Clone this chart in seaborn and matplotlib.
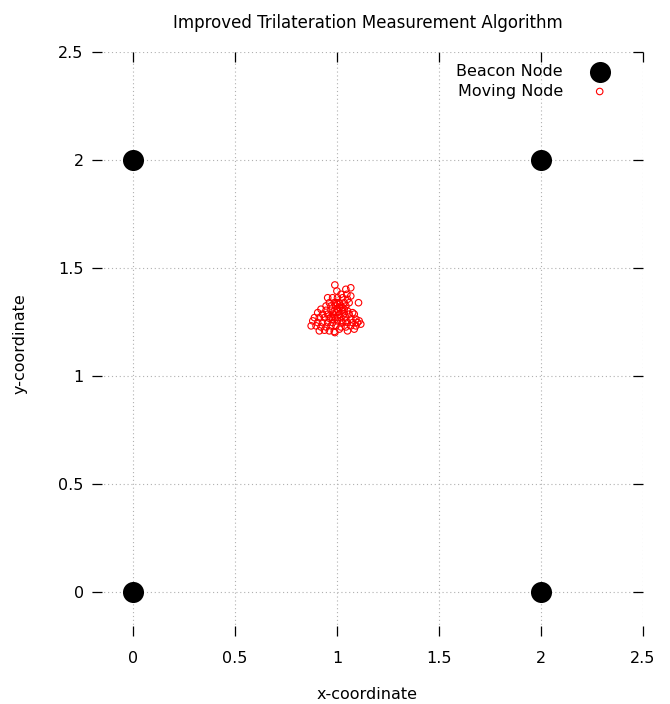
import matplotlib
matplotlib.use('Agg')
import matplotlib.pyplot as plt
import seaborn as sns

# Beacon (anchor) nodes
beacon_x = [0, 2, 0, 2]
beacon_y = [0, 0, 2, 2]

# Estimated positions of the moving node
moving_x = [1.068, 1.044, 1.020, 1.049, 1.068, 1.106, 0.955, 0.979, 1.003, 1.028,
            1.052, 0.963, 0.987, 1.012, 1.036, 1.060, 0.947, 0.971, 0.995, 1.020,
            1.044, 0.922, 0.947, 0.971, 1.003, 1.028, 1.052, 1.077, 0.906, 0.930,
            0.955, 0.979, 1.012, 1.036, 1.060, 1.085, 0.890, 0.914, 0.939, 0.963,
            0.987, 1.020, 1.044, 1.068, 1.093, 1.109, 0.882, 0.906, 0.930, 0.955,
            0.979, 1.003, 1.028, 1.052, 1.077, 1.101, 0.874, 0.898, 0.922, 0.947,
            0.971, 0.995, 1.020, 1.044, 1.068, 1.093, 1.117, 0.914, 0.939, 0.963,
            0.987, 1.012, 1.052, 1.085, 0.990, 1.028, 1.000, 1.000, 1.007, 0.990,
            0.995, 1.012, 0.987, 1.036, 1.003, 1.020, 0.979, 1.044, 1.003, 0.971]
moving_y = [1.408, 1.401, 1.378, 1.378, 1.370, 1.339, 1.362, 1.362, 1.362, 1.362,
            1.355, 1.339, 1.339, 1.339, 1.339, 1.339, 1.324, 1.324, 1.324, 1.324,
            1.324, 1.309, 1.304, 1.304, 1.309, 1.304, 1.301, 1.293, 1.293, 1.286,
            1.286, 1.286, 1.286, 1.289, 1.286, 1.286, 1.270, 1.270, 1.270, 1.267,
            1.270, 1.270, 1.270, 1.263, 1.263, 1.255, 1.255, 1.247, 1.247, 1.247,
            1.247, 1.255, 1.247, 1.247, 1.247, 1.247, 1.232, 1.232, 1.227, 1.227,
            1.232, 1.232, 1.227, 1.227, 1.232, 1.232, 1.240, 1.209, 1.212, 1.209,
            1.206, 1.217, 1.209, 1.217, 1.201, 1.316, 1.393, 1.339, 1.301, 1.421,
            1.293, 1.316, 1.301, 1.309, 1.270, 1.255, 1.263, 1.255, 1.332, 1.270]

tick_vals = [0, 0.5, 1, 1.5, 2, 2.5]
tick_labels = ['0', '0.5', '1', '1.5', '2', '2.5']

sns.set_style('white')
plt.rcParams['font.family'] = ['DejaVu Sans']
plt.rcParams['text.color'] = 'black'
plt.rcParams['axes.labelcolor'] = 'black'
plt.rcParams['xtick.color'] = 'black'
plt.rcParams['ytick.color'] = 'black'

fig = plt.figure(figsize=(6.70, 7.04), dpi=100)
ax = fig.add_axes([0.1373, 0.0973, 0.8224, 0.8293])

sns.scatterplot(x=beacon_x, y=beacon_y, ax=ax, color='black', s=230,
                edgecolor='black', linewidth=0, label='Beacon Node', zorder=3)
sns.scatterplot(x=moving_x, y=moving_y, ax=ax, marker='o', s=22,
                facecolor='none', edgecolor='red', linewidth=0.8,
                label='Moving Node', zorder=4)

ax.set_xlim(-0.2, 2.5)
ax.set_ylim(-0.2, 2.5)
ax.set_xticks(tick_vals)
ax.set_xticklabels(tick_labels)
ax.set_yticks(tick_vals)
ax.set_yticklabels(tick_labels)

for side in ['top', 'right', 'bottom', 'left']:
    ax.spines[side].set_visible(False)

ax.tick_params(direction='in', length=7, width=0.9, color='black',
               bottom=True, left=True, top=True, right=True, labelsize=11.5)
ax.tick_params(axis='x', pad=11)
ax.tick_params(axis='y', pad=6)

ax.grid(True, color='#b0b0b0', linestyle=(0, (1, 2.5)), linewidth=0.8)
ax.set_axisbelow(True)

ax.set_title('Improved Trilateration Measurement Algorithm', fontsize=12,
             pad=17, color='black')
ax.set_xlabel('x-coordinate', fontsize=11.5, labelpad=15)
ax.set_ylabel('y-coordinate', fontsize=11.5, labelpad=22)

leg = ax.legend(loc='upper right', bbox_to_anchor=(0.962, 0.99), frameon=False,
                markerfirst=False, fontsize=11.5, handletextpad=1.3,
                labelspacing=0.3, borderaxespad=0)

fig.savefig('out.png', dpi=100)
